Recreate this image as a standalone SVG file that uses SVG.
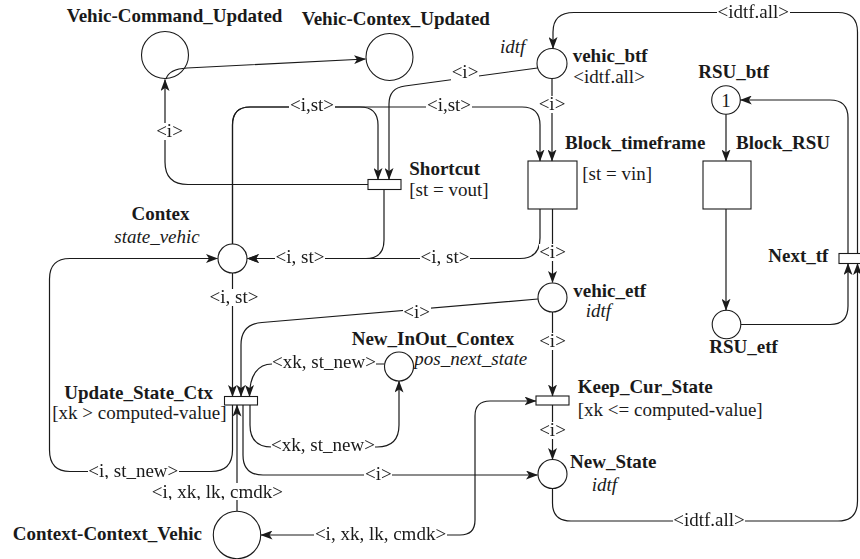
<svg xmlns="http://www.w3.org/2000/svg" width="860" height="559" viewBox="0 0 860 559">
<defs>
<marker id="ah" viewBox="0 0 12 9" markerWidth="12" markerHeight="9" refX="11.5" refY="4.5" orient="auto-start-reverse" markerUnits="userSpaceOnUse">
<path d="M0,0 L12,4.5 L0,9 L3,4.5 Z" fill="#1a1a1a"/>
</marker>
<filter id="bg" x="0" y="0.15" width="1" height="0.76" color-interpolation-filters="sRGB">
<feFlood flood-color="#ffffff"/>
<feComposite in="SourceGraphic" operator="over"/>
</filter>
</defs>
<style>
.arc{fill:none;stroke:#1a1a1a;stroke-width:1.2;marker-end:url(#ah)}
.both{marker-start:url(#ah)}
.pl,.tr{fill:#fff;stroke:#1a1a1a;stroke-width:1.1}
text{font-family:"Liberation Serif","Times New Roman",serif;font-size:19px;fill:#1a1a1a}
.b{font-weight:bold}
.i{font-style:italic}
.m{text-anchor:middle}
.lbl{text-anchor:middle;filter:url(#bg)}
</style>
<rect width="860" height="559" fill="#fff"/>

<g id="p_vehic_command_updated">
<circle class="pl" cx="165" cy="55" r="23.5"/>
<text class="b" x="66.7" y="22">Vehic-Command_Updated</text>
</g>
<g id="p_vehic_contex_updated">
<circle class="pl" cx="389.5" cy="57" r="23.5"/>
<text class="b" x="301.7" y="25">Vehic-Contex_Updated</text>
</g>
<g id="p_vehic_btf">
<circle class="pl" cx="552" cy="63.5" r="15"/>
<text class="b" x="572.7" y="62">vehic_btf</text>
<text x="573.3" y="82.7">&lt;idtf.all&gt;</text>
<text class="i" x="500" y="53">idtf</text>
</g>
<g id="p_rsu_btf">
<circle class="pl" cx="726" cy="100" r="14.3"/>
<text class="m" x="726" y="106.5">1</text>
<text class="b" x="698.3" y="78">RSU_btf</text>
</g>
<g id="t_block_timeframe">
<rect class="tr" x="528" y="161" width="49" height="48"/>
<text class="b" x="565" y="149">Block_timeframe</text>
<text x="582.3" y="179.5">[st = vin]</text>
</g>
<g id="t_block_rsu">
<rect class="tr" x="703" y="161" width="48" height="48"/>
<text class="b" x="736" y="149">Block_RSU</text>
</g>
<g id="t_shortcut">
<rect class="tr" x="368" y="179.5" width="33" height="10"/>
<text class="b" x="409.3" y="175">Shortcut</text>
<text x="409.3" y="195.5">[st = vout]</text>
</g>
<g id="p_contex">
<circle class="pl" cx="232.5" cy="258.5" r="14.5"/>
<text class="b m" x="160.5" y="220">Contex</text>
<text class="i" x="114.3" y="243">state_vehic</text>
</g>
<g id="p_vehic_etf">
<circle class="pl" cx="552.5" cy="297.5" r="14.5"/>
<text class="b" x="573.3" y="296.5">vehic_etf</text>
<text class="i" x="585.7" y="317">idtf</text>
</g>
<g id="t_next_tf">
<rect class="tr" x="839" y="253.5" width="24" height="10"/>
<text class="b" x="768.3" y="262">Next_tf</text>
</g>
<g id="p_rsu_etf">
<circle class="pl" cx="726.5" cy="324.5" r="14.3"/>
<text class="b" x="709.3" y="353">RSU_etf</text>
</g>
<g id="p_new_inout_contex">
<circle class="pl" cx="399" cy="366.5" r="14.5"/>
<text class="b" x="351.7" y="345">New_InOut_Contex</text>
<text class="i" x="414.3" y="365">pos_next_state</text>
</g>
<g id="t_update_state_ctx">
<rect class="tr" x="224.5" y="396.5" width="33" height="8.5"/>
<text class="b" x="64.3" y="399">Update_State_Ctx</text>
<text x="52.3" y="419">[xk &gt; computed-value]</text>
</g>
<g id="t_keep_cur_state">
<rect class="tr" x="536" y="396" width="33" height="9"/>
<text class="b" x="577.7" y="392.5">Keep_Cur_State</text>
<text x="577.7" y="416">[xk &lt;= computed-value]</text>
</g>
<g id="p_new_state">
<circle class="pl" cx="552.5" cy="474" r="14.5"/>
<text class="b" x="570" y="467.5">New_State</text>
<text class="i" x="591.7" y="490.5">idtf</text>
</g>
<g id="p_context_context_vehic">
<circle class="pl" cx="237" cy="535" r="23.7"/>
<text class="b" x="12.7" y="540">Context-Context_Vehic</text>
</g>

<g id="connectors">
<path class="arc" d="M166 79 Q169 69 187 68 L365.5 59"/>
<path class="arc" d="M368 184.5 H188 Q165 184.5 165 162 V79.5"/>
<path class="arc" d="M232.5 244 V125 Q232.5 107 250 107 H360 Q378 107 378 125 V179.5"/>
<path class="arc" d="M232.5 244 V125 Q232.5 107 250 107 H522 Q540 107 540 125 V161"/>
<path class="arc" d="M537.5 68 L405 86 Q389 88 389 104 V179.5"/>
<path class="arc" d="M552 78.5 V161"/>
<path class="arc" d="M384 189.5 V240 Q384 258.5 366 258.5 H247.5"/>
<path class="arc" d="M540 209 V238 Q540 258.5 520 258.5 H247.5"/>
<path class="arc" d="M552.5 209 V282.5"/>
<path class="arc" d="M232.5 273 V396.5"/>
<path class="arc" d="M538 299 L262 322.5 Q241 324 241 345 V396.5"/>
<path class="arc" d="M384.5 364 H272 C258 364 249.5 375 249.5 396.5"/>
<path class="arc" d="M250 405 V425 C250 440 258 447 272 447 H377 C392 447 399 440 399 425 V381"/>
<path class="arc" d="M232.5 405 V450 Q232.5 471.5 211 471.5 H70 Q49.5 471.5 49.5 450 V279 Q49.5 258.5 70 258.5 H217.5"/>
<path class="arc" d="M243 405 V455 Q243 475 263 475 H537.5"/>
<path class="arc" d="M237 511 V405"/>
<path class="arc both" d="M261 535 H460 Q475 535 475 520 V416 Q475 401 490 401 H536"/>
<path class="arc" d="M552.5 312 V396"/>
<path class="arc" d="M552.5 405 V459.5"/>
<path class="arc" d="M552.5 488.5 V503 Q552.5 521 571 521 H838 Q857.5 521 857.5 501 V263.5"/>
<path class="arc" d="M857.5 253.5 V32 Q857.5 12.5 838 12.5 H574 Q553 12.5 553 32 V48.5"/>
<path class="arc" d="M726 114.3 V161"/>
<path class="arc" d="M726 209 V310.2"/>
<path class="arc" d="M741 324.5 H830 Q848 324.5 848 306 V263.5"/>
<path class="arc" d="M848 253.5 V118 Q848 100 830 100 H740.3"/>

<text class="lbl" x="169.5" y="137">&lt;i&gt;</text>
<text class="lbl" x="312" y="111">&lt;i,st&gt;</text>
<text class="lbl" x="449" y="111">&lt;i,st&gt;</text>
<text class="lbl" x="465" y="78">&lt;i&gt;</text>
<text class="lbl" x="552" y="110">&lt;i&gt;</text>
<text class="lbl" x="300" y="263">&lt;i, st&gt;</text>
<text class="lbl" x="445" y="263">&lt;i, st&gt;</text>
<text class="lbl" x="552.5" y="258">&lt;i&gt;</text>
<text class="lbl" x="234" y="303">&lt;i, st&gt;</text>
<text class="lbl" x="416.7" y="317.5">&lt;i&gt;</text>
<text class="lbl" x="324" y="368">&lt;xk, st_new&gt;</text>
<text class="lbl" x="323" y="451">&lt;xk, st_new&gt;</text>
<text class="lbl" x="133.3" y="476.5">&lt;i, st_new&gt;</text>
<text class="lbl" x="378.3" y="479.5">&lt;i&gt;</text>
<text class="lbl" x="217.3" y="497.5">&lt;i, xk, lk, cmdk&gt;</text>
<text class="lbl" x="380.5" y="540">&lt;i, xk, lk, cmdk&gt;</text>
<text class="lbl" x="552.5" y="347">&lt;i&gt;</text>
<text class="lbl" x="552.5" y="436">&lt;i&gt;</text>
<text class="lbl" x="709" y="525.5">&lt;idtf.all&gt;</text>
<text class="lbl" x="753.3" y="17.5">&lt;idtf.all&gt;</text>
</g>
</svg>
